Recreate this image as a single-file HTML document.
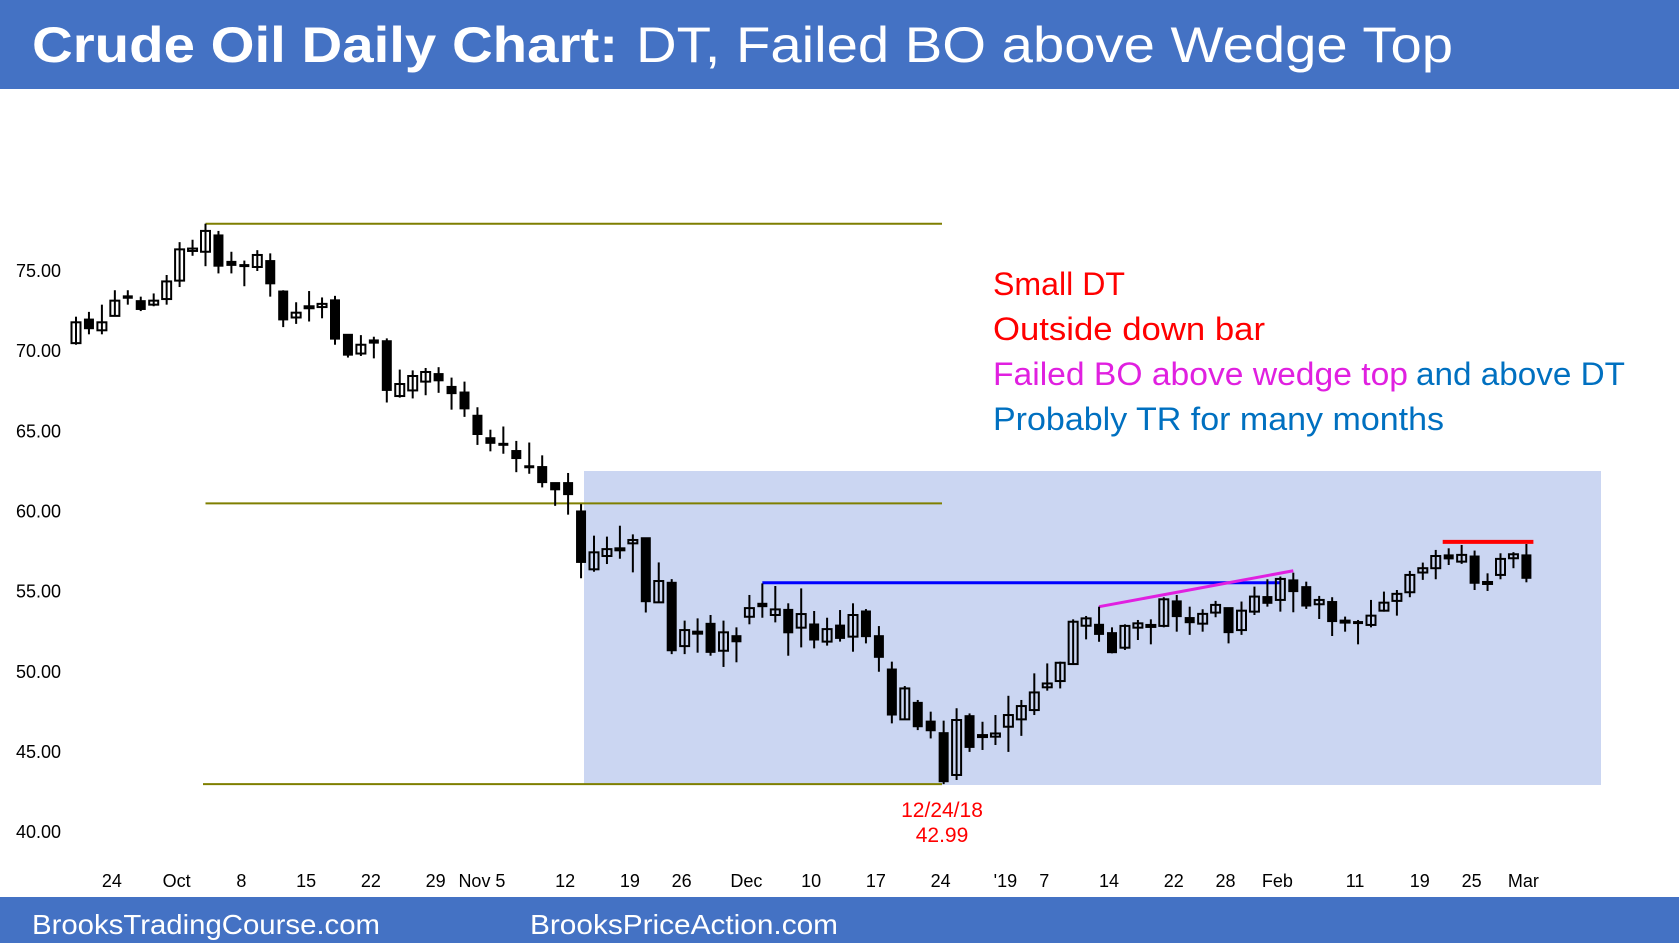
<!DOCTYPE html>
<html><head><meta charset="utf-8"><style>
html,body{margin:0;padding:0;background:#fff;}
svg{display:block;font-family:"Liberation Sans",Arial,sans-serif;}
</style></head><body>
<svg id="chart" width="1679" height="943" viewBox="0 0 1679 943" xmlns="http://www.w3.org/2000/svg">
<rect x="0" y="0" width="1679" height="89" fill="#4472C4"/>
<text x="32" y="62" fill="#fff" font-size="50" font-weight="bold" textLength="586" lengthAdjust="spacingAndGlyphs">Crude Oil Daily Chart:</text>
<text x="636" y="62" fill="#fff" font-size="50" textLength="817" lengthAdjust="spacingAndGlyphs">DT, Failed BO above Wedge Top</text>
<rect x="584" y="471" width="1017" height="314" fill="#CBD6F2"/>
<g id="yaxis"></g>
<g id="xaxis"></g>
<g id="lines"></g>
<g id="candles"></g>
<g font-size="32">
<text x="993" y="295" fill="#FF0000" textLength="132" lengthAdjust="spacingAndGlyphs">Small DT</text>
<text x="993" y="340" fill="#FF0000" textLength="272" lengthAdjust="spacingAndGlyphs">Outside down bar</text>
<text x="993" y="385" fill="#E020E0" textLength="415" lengthAdjust="spacingAndGlyphs">Failed BO above wedge top</text>
<text x="1416" y="385" fill="#0070C0" textLength="209" lengthAdjust="spacingAndGlyphs">and above DT</text>
<text x="993" y="430" fill="#0070C0" textLength="451" lengthAdjust="spacingAndGlyphs">Probably TR for many months</text>
</g>
<text x="942" y="817" fill="#FF0000" font-size="21" text-anchor="middle">12/24/18</text>
<text x="942" y="842" fill="#FF0000" font-size="21" text-anchor="middle">42.99</text>
<rect x="0" y="897" width="1679" height="46" fill="#4472C4"/>
<text x="32" y="934" fill="#fff" font-size="28" textLength="348" lengthAdjust="spacingAndGlyphs">BrooksTradingCourse.com</text>
<text x="530" y="934" fill="#fff" font-size="28" textLength="308" lengthAdjust="spacingAndGlyphs">BrooksPriceAction.com</text>
</svg>
<script>
const opens=[70.5,72.0,71.3,72.2,73.45,73.15,72.9,73.25,74.4,76.25,76.2,77.25,75.6,75.4,75.25,75.65,73.75,72.1,72.8,72.75,73.2,71.05,69.85,70.7,70.65,67.2,67.55,68.1,68.6,67.8,67.45,66.0,64.6,64.25,63.8,62.85,62.8,61.8,61.8,60.03,56.39,57.22,57.7,58.01,58.36,54.33,55.58,51.6,52.5,53.02,51.31,52.25,53.43,54.27,53.54,53.89,52.75,52.98,51.88,52.91,52.19,53.79,52.25,50.17,47.03,48.09,46.92,46.2,43.56,47.26,46.05,45.95,46.57,47.03,47.61,49.03,49.42,50.48,52.87,52.96,52.44,51.5,52.75,52.92,52.86,54.42,53.38,53.0,53.69,54.0,52.6,53.75,54.69,54.48,55.73,55.31,54.21,54.38,53.19,53.13,52.92,53.81,54.42,54.96,56.19,56.46,57.29,56.87,57.22,55.5,56.04,57.08,57.29];
const closes=[71.8,71.4,71.8,73.15,73.3,72.6,73.15,74.35,76.35,76.4,77.5,75.3,75.35,75.3,76.0,74.2,71.95,72.4,72.8,72.95,70.75,69.75,70.4,70.5,67.55,67.95,68.45,68.7,68.15,67.35,66.4,64.8,64.25,64.2,63.3,62.8,61.8,61.35,61.05,56.82,57.45,57.65,57.7,58.22,54.37,55.66,51.31,52.6,52.5,51.21,52.46,51.87,53.97,54.06,53.89,52.43,53.6,51.98,52.66,52.08,53.54,52.19,50.9,47.3,48.96,46.57,46.32,43.14,46.99,45.28,46.05,46.15,47.3,47.86,48.71,49.27,50.56,53.12,53.33,52.33,51.19,52.86,53.02,52.92,54.52,53.44,53.06,53.61,54.17,52.44,53.81,54.69,54.27,55.79,55.0,54.1,54.48,53.13,53.19,53.02,53.5,54.31,54.86,56.04,56.46,57.22,57.04,57.29,55.52,55.6,57.04,57.33,55.83];
const highs=[72.15,72.45,72.9,73.8,73.8,73.4,73.6,74.75,76.8,76.95,77.95,77.5,76.2,75.65,76.3,76.1,73.8,73.05,73.75,73.35,73.45,71.05,71.0,70.9,70.8,68.85,68.8,68.95,69.0,68.35,68.1,66.5,65.1,65.3,64.4,64.3,63.5,61.8,62.4,60.46,58.49,58.43,59.11,58.57,58.36,56.82,55.78,53.19,53.33,53.54,53.19,52.77,54.79,55.51,55.35,54.27,55.2,53.79,53.37,53.85,54.27,53.91,52.85,50.63,49.11,48.24,47.51,46.95,47.72,47.4,46.88,47.3,48.5,48.24,49.9,50.52,50.63,53.27,53.48,54.06,52.77,52.96,53.23,53.27,54.65,54.79,54.06,53.9,54.42,54.0,54.38,55.31,55.77,55.94,56.18,55.62,54.73,54.65,53.44,53.23,54.48,55.0,55.1,56.29,56.81,57.6,57.7,57.91,57.56,56.14,57.39,57.46,57.97];
const lows=[70.4,71.05,71.05,72.2,72.9,72.5,72.8,72.9,74.0,75.95,75.3,74.85,74.85,74.05,75.0,73.4,71.5,71.7,71.85,72.05,70.4,69.6,69.7,69.55,66.8,67.1,67.05,67.25,67.4,66.35,65.9,64.15,63.75,63.6,62.45,62.35,61.5,60.35,59.8,55.83,56.24,56.72,57.05,56.2,53.7,54.33,51.1,51.1,51.19,51.0,50.3,50.59,52.96,53.37,53.08,51.0,51.52,51.46,51.63,51.88,51.25,51.77,50.0,46.78,46.99,46.36,45.84,42.99,43.25,45.0,45.12,45.43,45.0,46.0,47.3,48.82,48.96,50.42,52.02,51.87,51.15,51.36,51.98,51.71,52.77,52.5,52.3,52.5,53.4,51.77,52.3,53.54,54.06,53.75,53.71,53.92,53.29,52.23,52.5,51.71,52.77,53.75,53.5,54.65,55.73,55.77,56.66,56.73,55.1,55.04,55.77,56.46,55.58];
const yTicks=[40,45,50,55,60,65,70,75];
const yTickLabels=["40.00","45.00","50.00","55.00","60.00","65.00","70.00","75.00"];
const xTickIdx=[3,8,13,18,23,28,31,33,38,43,47,52,57,62,67,72,75,80,85,89,93,99,104,108,112];
const xTickLabels=["24","Oct","8","15","22","29","Nov","5","12","19","26","Dec","10","17","24","'19","7","14","22","28","Feb","11","19","25","Mar"];
const topLevel=[77.95];const midLevel=[60.5];const lowLevel=[42.99];
const dtLevel=[55.55];const wedgeStart=[79,54.06];const wedgeEnd=[94,56.3];
const redLevel=[58.1];

const NS="http://www.w3.org/2000/svg";
function X(i){return 76+12.95*i;}
function Y(p){return 271+(75-p)*16.03;}
function mk(tag,attrs,parent){const e=document.createElementNS(NS,tag);for(const k in attrs)e.setAttribute(k,attrs[k]);parent.appendChild(e);return e;}
const ya=document.getElementById('yaxis'),xa=document.getElementById('xaxis'),ln=document.getElementById('lines'),cg=document.getElementById('candles');
yTicks.forEach((v,k)=>{const t=mk('text',{x:61,y:Y(v)+6,'font-size':18,'text-anchor':'end',fill:'#000'},ya);


t.textContent=yTickLabels[k];});
xTickIdx.forEach((ix,k)=>{const t=mk('text',{x:X(ix)-3,y:887,'font-size':18,'text-anchor':'middle',fill:'#000'},xa);


t.textContent=xTickLabels[k];});
function hline(p,x1,x2,col,w,name){const l=mk('line',{x1:x1,x2:x2,y1:Y(p),y2:Y(p),stroke:col,'stroke-width':w},ln);

}
hline(topLevel[0],X(10),942,'#7F7F00',2,'top-level-line');
hline(midLevel[0],X(10),942,'#7F7F00',2,'mid-level-line');
hline(lowLevel[0],203,942,'#7F7F00',2,'low-level-line');
hline(dtLevel[0],X(53),X(93),'#0000FF',3,'double-top-line');
hline(redLevel[0],X(106)-6,X(112)+7,'#FF0000',4,'small-dt-line');
const wl=mk('line',{x1:X(wedgeStart[0]),y1:Y(wedgeStart[1]),x2:X(wedgeEnd[0]),y2:Y(wedgeEnd[1]),stroke:'#E020E0','stroke-width':3},ln);


for(let i=0;i<opens.length;i++){
 const o=opens[i],c=closes[i],x=X(i);const up=c>=o;
 const g=mk('g',{},cg);
 
 
 const top=Y(Math.max(o,c)),bot=Y(Math.min(o,c));
 mk('line',{x1:x,x2:x,y1:Y(highs[i]),y2:Y(lows[i]),stroke:'#000','stroke-width':2},g);
 let h=Math.max(bot-top,2);
 mk('rect',{x:x-4.5,y:top,width:9,height:h,fill:up?'none':'#000',stroke:'#000','stroke-width':up?2:1},g);
}
</script>
</body></html>
